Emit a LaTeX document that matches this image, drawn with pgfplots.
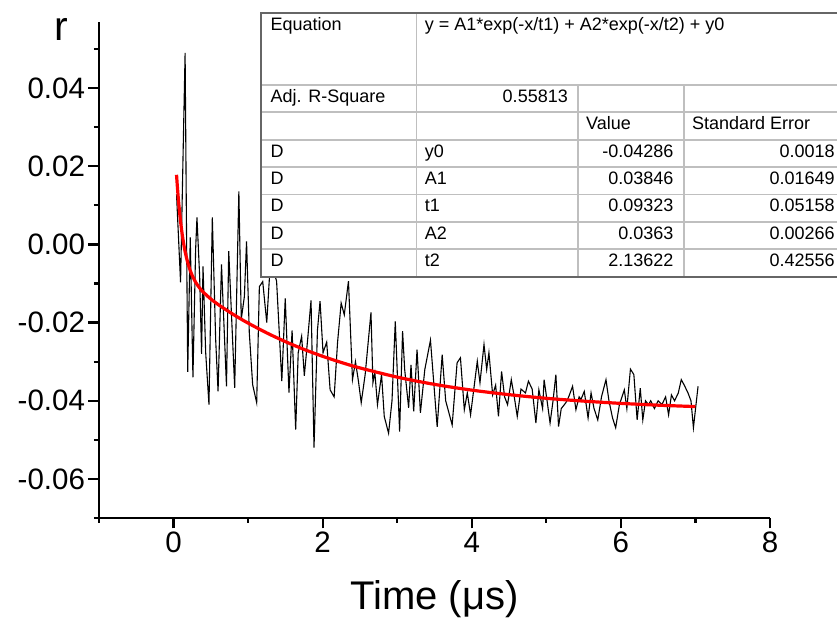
\documentclass[border=0pt]{standalone}
\usepackage{fontspec}
\setmainfont{Liberation Sans}
\usepackage{pgfplots}
\pgfplotsset{compat=1.18}
\begin{document}
\begin{tikzpicture}
\begin{axis}[
  scale only axis, width=671pt, height=496.3pt,
  xmin=-1, xmax=8, ymin=-0.07, ymax=0.057,
  axis x line*=bottom, axis y line*=left,
  axis line style={-, line width=2.2pt, black},
  scaled x ticks=false, scaled y ticks=false,
  xtick={0,2,4,6,8}, xticklabels={0,2,4,6,8},
  minor xtick={-1,1,3,5,7},
  ytick={-0.06,-0.04,-0.02,0,0.02,0.04},
  yticklabels={-0.06,-0.04,-0.02,0.00,0.02,0.04},
  minor ytick={-0.07,-0.05,-0.03,-0.01,0.01,0.03,0.05},
  tick align=outside,
  major tick length=10.5pt, minor tick length=5pt,
  every tick/.style={line width=2.2pt, black},
  tick label style={font=\fontsize{29.5}{32}\selectfont},
  xlabel={Time (μs)},
  xlabel style={font=\fontsize{40}{44}\selectfont, at={(axis description cs:0.5,-0.1834)}, anchor=base},
  ylabel={r},
  ylabel style={font=\fontsize{41}{44}\selectfont, rotate=-90, at={(axis description cs:-0.0566,0.985)}, anchor=center},
  clip=true,
]
\addplot[black, line width=1.1pt] coordinates {
(0.040,0.0128) (0.094,-0.0097) (0.135,0.030) (0.155,0.049) (0.170,0.012)
(0.190,-0.0326) (0.224,0.0018) (0.260,-0.034) (0.296,-0.0013) (0.314,0.0069)
(0.350,-0.0081) (0.376,-0.028) (0.395,-0.0056) (0.431,-0.0277) (0.475,-0.041)
(0.520,0.0069) (0.565,-0.0244) (0.597,-0.0376) (0.643,-0.0051) (0.710,-0.0363)
(0.740,-0.0017) (0.820,-0.0367) (0.876,0.0136) (0.908,-0.0192) (0.950,-0.0133)
(0.979,0.0008) (1.016,-0.0226) (1.061,-0.0359) (1.115,-0.0405) (1.151,-0.0108)
(1.196,-0.0095) (1.25,-0.020) (1.30,-0.004) (1.382,-0.0094) (1.452,-0.035)
(1.498,-0.0138) (1.548,-0.0379) (1.590,-0.022) (1.638,-0.0474) (1.672,-0.0277)
(1.718,-0.0235) (1.754,-0.0336) (1.800,-0.024) (1.844,-0.0143) (1.884,-0.052)
(1.930,-0.022) (1.965,-0.0145) (2.005,-0.0277) (2.054,-0.025) (2.100,-0.0372)
(2.154,-0.039) (2.200,-0.025) (2.248,-0.015) (2.290,-0.018) (2.346,-0.0094)
(2.400,-0.0346) (2.440,-0.030) (2.480,-0.035) (2.517,-0.0405) (2.570,-0.0333)
(2.648,-0.0174) (2.674,-0.0354) (2.700,-0.0328) (2.735,-0.041) (2.790,-0.0333)
(2.826,-0.044) (2.884,-0.0483) (2.930,-0.040) (2.974,-0.0197) (3.032,-0.0479)
(3.072,-0.0222) (3.100,-0.032) (3.153,-0.0418) (3.185,-0.0308) (3.221,-0.0427)
(3.266,-0.0269) (3.311,-0.0431) (3.370,-0.032) (3.446,-0.0245) (3.536,-0.0467)
(3.603,-0.0282) (3.650,-0.040) (3.737,-0.0462) (3.803,-0.0303) (3.848,-0.029)
(3.900,-0.0423) (3.940,-0.038) (3.984,-0.0436) (4.074,-0.0299) (4.110,-0.0354)
(4.164,-0.0256) (4.200,-0.032) (4.230,-0.0277) (4.280,-0.0385) (4.320,-0.036)
(4.358,-0.044) (4.400,-0.0325) (4.440,-0.039) (4.480,-0.041) (4.530,-0.0346)
(4.570,-0.039) (4.610,-0.044) (4.660,-0.037) (4.720,-0.038) (4.760,-0.035)
(4.810,-0.037) (4.860,-0.0457) (4.900,-0.0372) (4.950,-0.042) (4.970,-0.0346)
(5.010,-0.040) (5.050,-0.0457) (5.090,-0.040) (5.128,-0.0333) (5.164,-0.0466)
(5.200,-0.042) (5.262,-0.0405) (5.300,-0.039) (5.352,-0.0363) (5.397,-0.0423)
(5.440,-0.039) (5.464,-0.0397) (5.509,-0.0376) (5.560,-0.0444) (5.600,-0.038)
(5.640,-0.042) (5.690,-0.0449) (5.740,-0.039) (5.800,-0.0346) (5.840,-0.040)
(5.888,-0.0444) (5.930,-0.0469) (5.980,-0.041) (6.046,-0.0372) (6.080,-0.042)
(6.128,-0.0319) (6.174,-0.0333) (6.218,-0.0449) (6.260,-0.0368) (6.294,-0.0449)
(6.330,-0.040) (6.370,-0.041) (6.400,-0.040) (6.450,-0.042) (6.500,-0.040)
(6.550,-0.041) (6.600,-0.039) (6.640,-0.0436) (6.678,-0.0385) (6.720,-0.040)
(6.770,-0.038) (6.810,-0.0346) (6.850,-0.036) (6.900,-0.038) (6.940,-0.040)
(6.973,-0.0469) (7.035,-0.0363)
};
\addplot[red, line width=3.2pt, smooth] coordinates {
(0.04,0.01782) (0.05,0.01510) (0.06,0.01264) (0.07,0.01042) (0.08,0.00842)
(0.09,0.00659) (0.10,0.00494) (0.115,0.00274) (0.13,0.00084) (0.145,-0.00082)
(0.16,-0.00227) (0.18,-0.00391) (0.20,-0.00530) (0.225,-0.00675) (0.25,-0.00794)
(0.30,-0.00978) (0.35,-0.01115) (0.40,-0.01223) (0.50,-0.01396) (0.60,-0.01539)
(0.70,-0.01668) (0.85,-0.01848) (1.00,-0.02013) (1.25,-0.02264) (1.50,-0.02487)
(1.75,-0.02686) (2.00,-0.02863) (2.25,-0.03020) (2.50,-0.03160) (3.00,-0.03395)
(3.50,-0.03581) (4.00,-0.03728) (4.50,-0.03844) (5.00,-0.03937) (5.50,-0.04009)
(6.00,-0.04067) (6.50,-0.04113) (7.00,-0.04149)
};
\end{axis}
% fit-results table, drawn in reference pixel coordinates
\begin{scope}[x=1pt, y=-1pt, shift={(-99pt,518pt)}, font=\fontsize{18}{20}\selectfont]
  \fill[white] (261,13) rectangle (846,277);
  \begin{scope}[draw=black!25, line width=1.6pt]
    \draw (261,85) -- (846,85);
    \draw (261,112.3) -- (846,112.3);
    \draw (261,140) -- (846,140);
    \draw (261,167.3) -- (846,167.3);
    \draw (261,194.5) -- (846,194.5);
    \draw (261,221.8) -- (846,221.8);
    \draw (261,249) -- (846,249);
    \draw (416.5,13) -- (416.5,277);
    \draw (578,85) -- (578,277);
    \draw (683.7,85) -- (683.7,277);
  \end{scope}
  \draw[black!60, line width=2pt] (261,13) rectangle (846,277);
  \node[anchor=base west, inner sep=0] at (270.5,30.7) {Equation};
  \node[anchor=base west, inner sep=0] at (424.6,30.7) {y = A1*exp(-x/t1) + A2*exp(-x/t2) + y0};
  \node[anchor=base west, inner sep=0] at (270.5,102.3) {Adj. R-Square};
  \node[anchor=base east, inner sep=0] at (568,102.3) {0.55813};
  \node[anchor=base west, inner sep=0] at (586,129.6) {Value};
  \node[anchor=base west, inner sep=0] at (692,129.6) {Standard Error};
  \foreach \yb/\p/\v/\e in {157.3/y0/-0.04286/0.0018, 184.6/A1/0.03846/0.01649, 211.8/t1/0.09323/0.05158, 239.1/A2/0.0363/0.00266, 266.3/t2/2.13622/0.42556} {
    \node[anchor=base west, inner sep=0] at (270.5,\yb) {D};
    \node[anchor=base west, inner sep=0] at (424.6,\yb) {\p};
    \node[anchor=base east, inner sep=0] at (673.7,\yb) {\v};
    \node[anchor=base east, inner sep=0] at (834.8,\yb) {\e};
  }
\end{scope}
\pgfresetboundingbox
\useasboundingbox (-99pt,-110pt) rectangle (738pt,518pt);
\end{tikzpicture}
\end{document}
